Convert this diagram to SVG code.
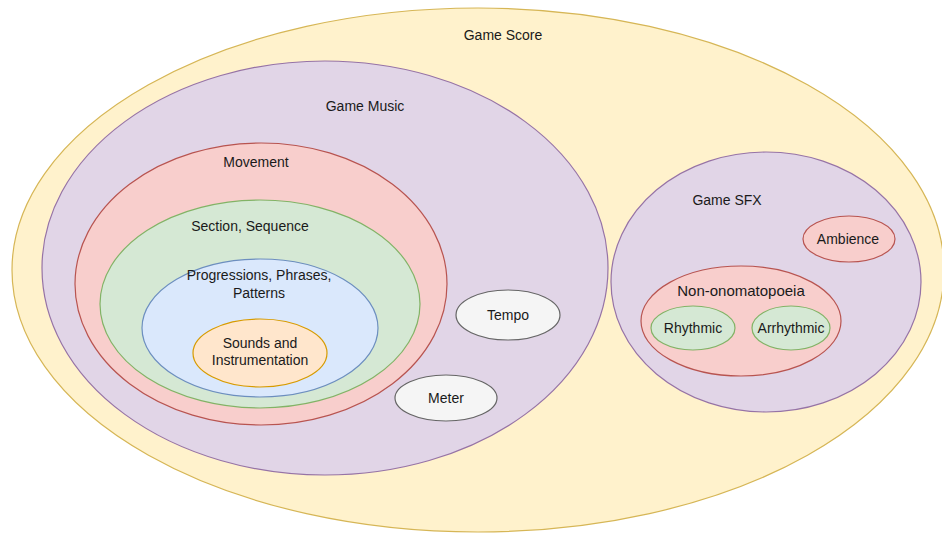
<svg xmlns="http://www.w3.org/2000/svg" width="942" height="533" viewBox="0 0 942 533">
<style>
text{font-family:"Liberation Sans",Arial,sans-serif;font-size:14px;fill:#1a1a1a;text-anchor:middle;dominant-baseline:central}
.score{fill:#fff2cc;stroke:#d6b656}
.purple{fill:#e1d5e7;stroke:#9673a6}
.red{fill:#f8cecc;stroke:#b85450}
.green{fill:#d5e8d4;stroke:#82b366}
.blue{fill:#dae8fc;stroke:#6c8ebf}
.orange{fill:#ffe6cc;stroke:#d79b00}
.grey{fill:#f5f5f5;stroke:#666666}
ellipse{stroke-width:1.2}
</style>
<g id="game-score"><ellipse class="score" cx="478" cy="270" rx="466" ry="262"/><text x="503" y="35">Game Score</text></g>
<g id="game-music"><ellipse class="purple" cx="325" cy="268" rx="283" ry="207"/><text x="365" y="106">Game Music</text></g>
<g id="movement"><ellipse class="red" cx="261" cy="284" rx="186" ry="141"/><text x="256" y="162">Movement</text></g>
<g id="section"><ellipse class="green" cx="260" cy="304" rx="160" ry="104"/><text x="250" y="226">Section, Sequence</text></g>
<g id="progressions"><ellipse class="blue" cx="260" cy="328" rx="118" ry="69"/><text x="259" y="275">Progressions, Phrases,</text><text x="259" y="293">Patterns</text></g>
<g id="sounds"><ellipse class="orange" cx="260" cy="353" rx="67" ry="34"/><text x="260" y="343">Sounds and</text><text x="260" y="360">Instrumentation</text></g>
<g id="tempo"><ellipse class="grey" cx="508" cy="315" rx="52" ry="25"/><text x="508" y="315">Tempo</text></g>
<g id="meter"><ellipse class="grey" cx="446" cy="398" rx="51" ry="23"/><text x="446" y="398">Meter</text></g>
<g id="game-sfx"><ellipse class="purple" cx="766" cy="282" rx="155" ry="130"/><text x="727" y="200">Game SFX</text></g>
<g id="ambience"><ellipse class="red" cx="849" cy="239" rx="46" ry="23"/><text x="848" y="239">Ambience</text></g>
<g id="non-onomatopoeia"><ellipse class="red" cx="741" cy="321" rx="100" ry="55"/><text x="741" y="290" style="font-size:15px">Non-onomatopoeia</text></g>
<g id="rhythmic"><ellipse class="green" cx="693" cy="328" rx="42" ry="22"/><text x="693" y="328">Rhythmic</text></g>
<g id="arrhythmic"><ellipse class="green" cx="791" cy="328" rx="39" ry="22"/><text x="791" y="328">Arrhythmic</text></g>
<g id="connectors"></g>
</svg>
